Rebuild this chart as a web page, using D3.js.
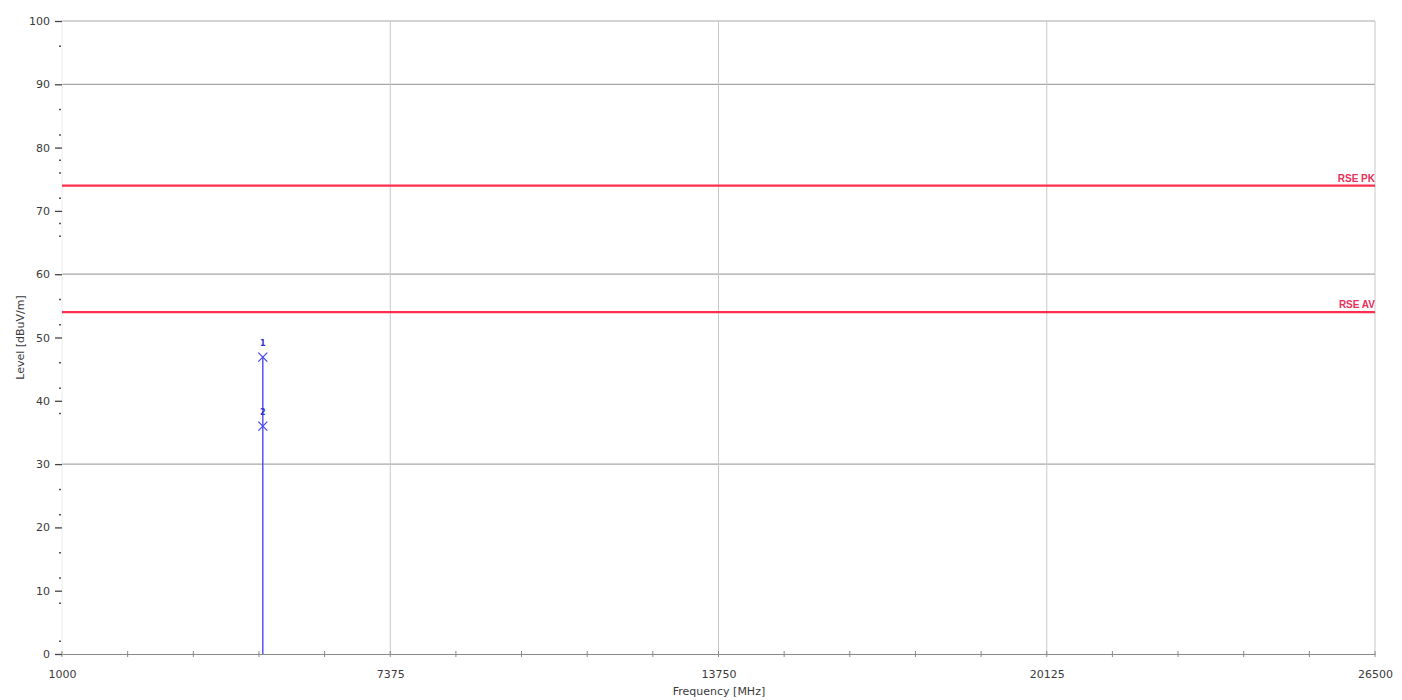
<!DOCTYPE html>
<html><head><meta charset="utf-8">
<script src="https://cdn.jsdelivr.net/npm/d3@7/dist/d3.min.js"></script>
<style>
html,body{margin:0;padding:0;background:#fff;}
svg{display:block;font-family:"DejaVu Sans",Arial,sans-serif;}
</style></head>
<body><svg id="chart" width="1402" height="700"></svg>
<script>
// ---- data ----
const xDomain = [1000, 26500];
const yDomain = [0, 100];
const xMajorTicks = [1000, 7375, 13750, 20125, 26500];
const xMinorStep = 1275;
const yMajorTicks = [0, 10, 20, 30, 40, 50, 60, 70, 80, 90, 100];
const yGridValues = [30, 60, 90, 100];
const yMinorTicks = [2, 8, 12, 16, 22, 26, 38, 42, 46, 52, 56, 66, 68, 72, 76, 78, 82, 86, 96];
const traceFreq = [4900, 4900];
const traceLevel = [0, 46.9];
const markerIds = ["1", "2"];
const markerFreq = [4900, 4900];
const markerLevel = [46.9, 36.0];
const limitNames = ["RSE PK", "RSE AV"];
const limitLevels = [74, 54];
const xTitle = "Frequency [MHz]";
const yTitle = "Level [dBuV/m]";

// ---- layout ----
const svg = d3.select("#chart");
const L = 62, R = 1375, T = 21, B = 654;
const x = d3.scaleLinear().domain(xDomain).range([L, R]);
const y = d3.scaleLinear().domain(yDomain).range([B, T]);

// horizontal grid
svg.append("g").selectAll("line").data(yGridValues).join("line")
  .attr("x1", L).attr("x2", R)
  .attr("y1", d => y(d)).attr("y2", d => y(d))
  .attr("stroke", "#a8a8a8").attr("stroke-width", 1.2);
// vertical grid
svg.append("g").selectAll("line").data(xMajorTicks.slice(1)).join("line")
  .attr("x1", d => x(d)).attr("x2", d => x(d))
  .attr("y1", T).attr("y2", B)
  .attr("stroke", "#c8c8c8").attr("stroke-width", 1);
// left faint border
svg.append("line").attr("x1", L).attr("x2", L).attr("y1", T).attr("y2", B)
  .attr("stroke", "#ececec").attr("stroke-width", 1);

// x axis
const xMinor = d3.range(xDomain[0], xDomain[1] + 1, xMinorStep);
const xAxis = d3.axisBottom(x).tickValues(xMajorTicks).tickSize(0).tickPadding(16)
  .tickFormat(d3.format("d"));
const gx = svg.append("g").attr("transform", `translate(0,${B})`).call(xAxis);
gx.select(".domain").attr("stroke", "#8a8a8a").attr("stroke-width", 1);
gx.selectAll("text").attr("fill", "#3a3a3a").style("font-size", "11px")
  .style("font-family", "\"DejaVu Sans\",Arial,sans-serif");
svg.append("g").selectAll("line").data(xMinor).join("line")
  .attr("x1", d => x(d)).attr("x2", d => x(d))
  .attr("y1", B - 3).attr("y2", B + 3)
  .attr("stroke", "#8a8a8a").attr("stroke-width", 1);

// y axis
const yAxis = d3.axisLeft(y).tickValues(yMajorTicks).tickSize(7).tickPadding(5)
  .tickFormat(d3.format("d"));
const gy = svg.append("g").attr("transform", `translate(${L},0)`).call(yAxis);
gy.select(".domain").remove();
gy.selectAll(".tick line").attr("stroke", "#444").attr("stroke-width", 1.3);
gy.selectAll("text").attr("fill", "#3a3a3a").style("font-size", "11px")
  .style("font-family", "\"DejaVu Sans\",Arial,sans-serif");
svg.append("g").selectAll("line").data(yMinorTicks).join("line")
  .attr("x1", L - 3).attr("x2", L - 1)
  .attr("y1", d => y(d)).attr("y2", d => y(d))
  .attr("stroke", "#555").attr("stroke-width", 1.5);

// titles
svg.append("text").attr("x", (L + R) / 2 + 0.5).attr("y", 695)
  .attr("text-anchor", "middle").attr("fill", "#3a3a3a").style("font-size", "11px")
  .text(xTitle);
svg.append("text").attr("transform", `translate(24,${(T + B) / 2}) rotate(-90)`)
  .attr("text-anchor", "middle").attr("fill", "#3a3a3a").style("font-size", "11px")
  .text(yTitle);

// limit lines
const limits = limitNames.map((n, i) => ({ name: n, v: limitLevels[i] }));
svg.append("g").selectAll("line").data(limits).join("line")
  .attr("x1", L).attr("x2", R)
  .attr("y1", d => y(d.v)).attr("y2", d => y(d.v))
  .attr("stroke", "#ff2e4e").attr("stroke-width", 2.2);
svg.append("g").selectAll("text").data(limits).join("text")
  .attr("x", R).attr("y", d => y(d.v) - 4)
  .attr("text-anchor", "end").attr("fill", "#e8305a")
  .style("font-size", "10px").style("font-weight", "bold")
  .style("font-family", "\"Liberation Sans\",Arial,sans-serif")
  .text(d => d.name);

// trace
const trace = traceFreq.map((f, i) => [f, traceLevel[i]]);
svg.append("path").datum(trace)
  .attr("d", d3.line().x(d => x(d[0])).y(d => y(d[1])))
  .attr("fill", "none").attr("stroke", "#4a4af0").attr("stroke-width", 1.4);

// markers
const markers = markerIds.map((id, i) => ({ id, f: markerFreq[i], v: markerLevel[i] }));
const mg = svg.append("g").selectAll("g").data(markers).join("g")
  .attr("transform", d => `translate(${x(d.f)},${y(d.v)})`);
mg.append("path").attr("d", "M-4.5,-4.5L4.5,4.5M-4.5,4.5L4.5,-4.5")
  .attr("stroke", "#4a4af0").attr("stroke-width", 1.3);
mg.append("text").attr("x", 0).attr("y", -11).attr("text-anchor", "middle")
  .attr("fill", "#3030d0").style("font-size", "8px").style("font-weight", "bold")
  .text(d => d.id);
</script></body></html>
